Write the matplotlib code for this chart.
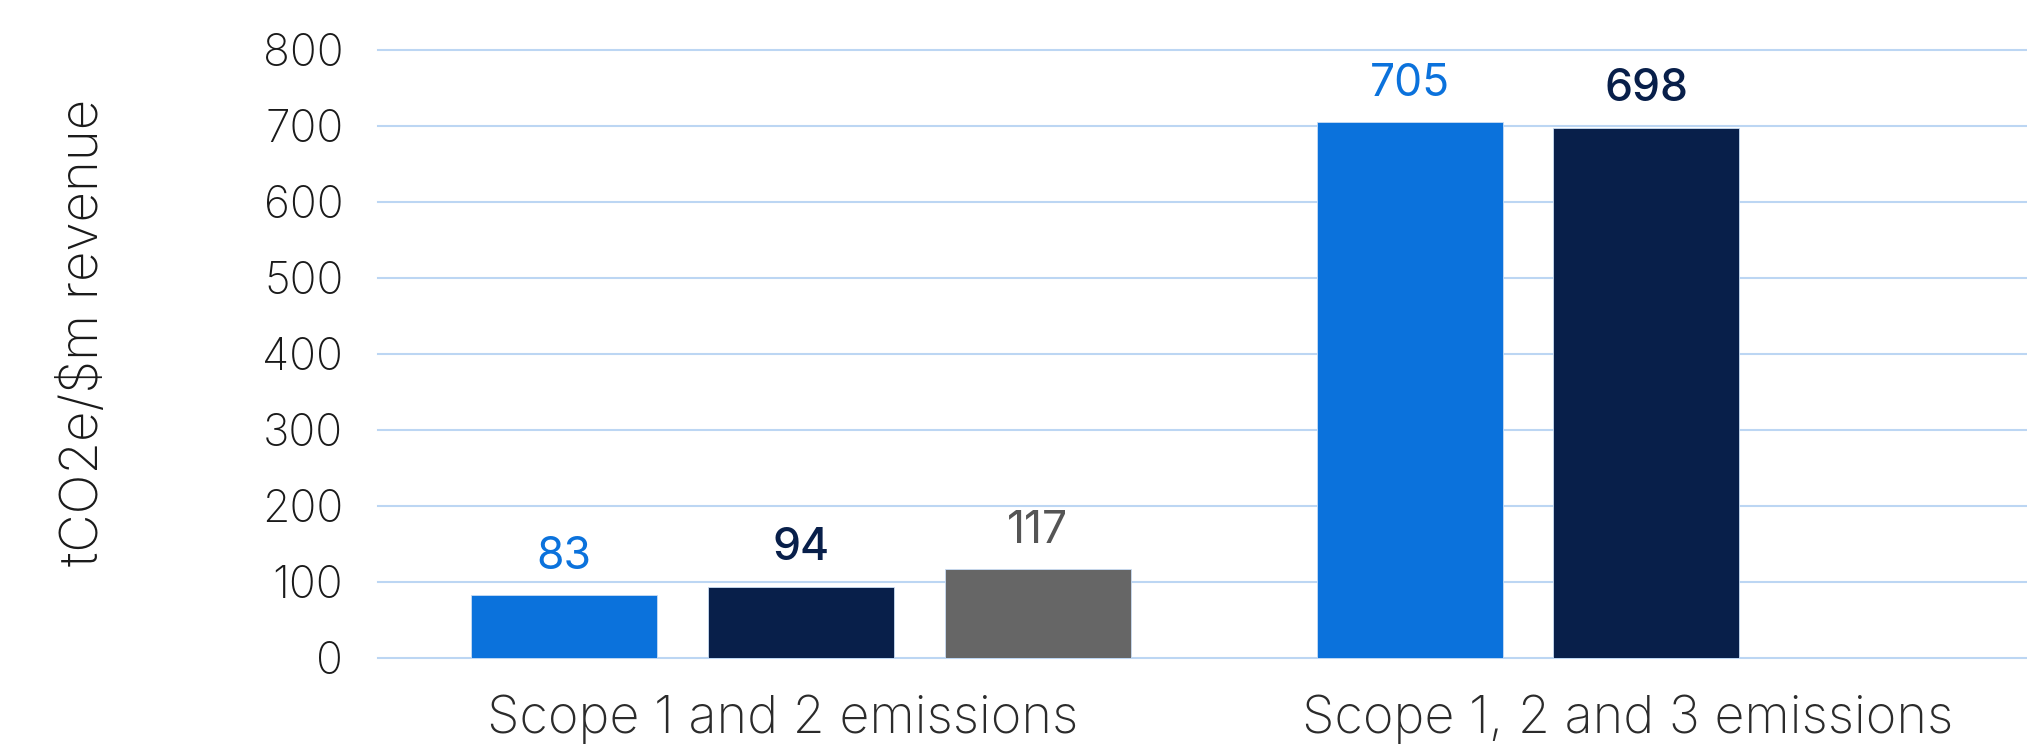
import matplotlib
matplotlib.use("Agg")
import matplotlib.pyplot as plt
import numpy as np

categories = ["Scope 1 and 2 emissions", "Scope 1, 2 and 3 emissions"]
series_a = [83, 705]
series_b = [94, 698]
series_c = [117, None]
yticks = [0, 100, 200, 300, 400, 500, 600, 700, 800]
ylabel = "tCO2e/$m revenue"

colors = ["#0B72DC", "#081F4A", "#666666"]
label_colors = ["#0B72DC", "#081F4A", "#555555"]
label_weights = ["normal", "medium", "normal"]

plt.rcParams['font.family'] = ['Inter', 'DejaVu Sans']

W, H = 2027, 745
fig = plt.figure(figsize=(W / 100, H / 100), dpi=100)
ax = fig.add_axes([378 / W, 1 - 658 / H, 1 - 378 / W, (658 - 50) / H])

x = np.arange(len(categories))
slot = 0.28
width = 0.22
series = [series_a, series_b, series_c]
for i, s in enumerate(series):
    for j, v in enumerate(s):
        if v is None:
            continue
        xpos = x[j] + (i - 1) * slot
        ax.bar(xpos, v, width=width, color=colors[i], edgecolor="#C9DDF4",
               linewidth=0.6, zorder=3)
        ax.annotate(str(v), (xpos, v), xytext=(0, 19), textcoords="offset points",
                    ha="center", va="baseline", fontsize=32,
                    color=label_colors[i], fontweight=label_weights[i],
                    annotation_clip=False)

ax.set_xlim(-0.5, 1.45)
ax.set_ylim(0, 800)
ax.set_yticks(yticks)
ax.set_yticklabels([str(t) for t in yticks], fontsize=32, fontweight="light",
                   color="#1A1A1A")
ax.set_xticks(x - 0.022)
ax.set_xticklabels(categories, fontsize=37.5, fontweight="light", color="#2B2B2B")
ax.tick_params(axis="both", length=0)
ax.tick_params(axis="y", pad=25)
ax.tick_params(axis="x", pad=26)
for sp in ax.spines.values():
    sp.set_visible(False)
ax.grid(axis="y", color="#BCD6F3", linewidth=1.5, zorder=0)
ax.set_axisbelow(True)
for gl in ax.get_ygridlines():
    gl.set_clip_on(False)

fig.text(98 / W, 1 - 332 / H, ylabel, rotation=90, rotation_mode="anchor",
         ha="center", va="baseline", fontsize=38, fontweight="light",
         color="#1A1A1A")

fig.savefig("out.png", dpi=100, facecolor="white")
